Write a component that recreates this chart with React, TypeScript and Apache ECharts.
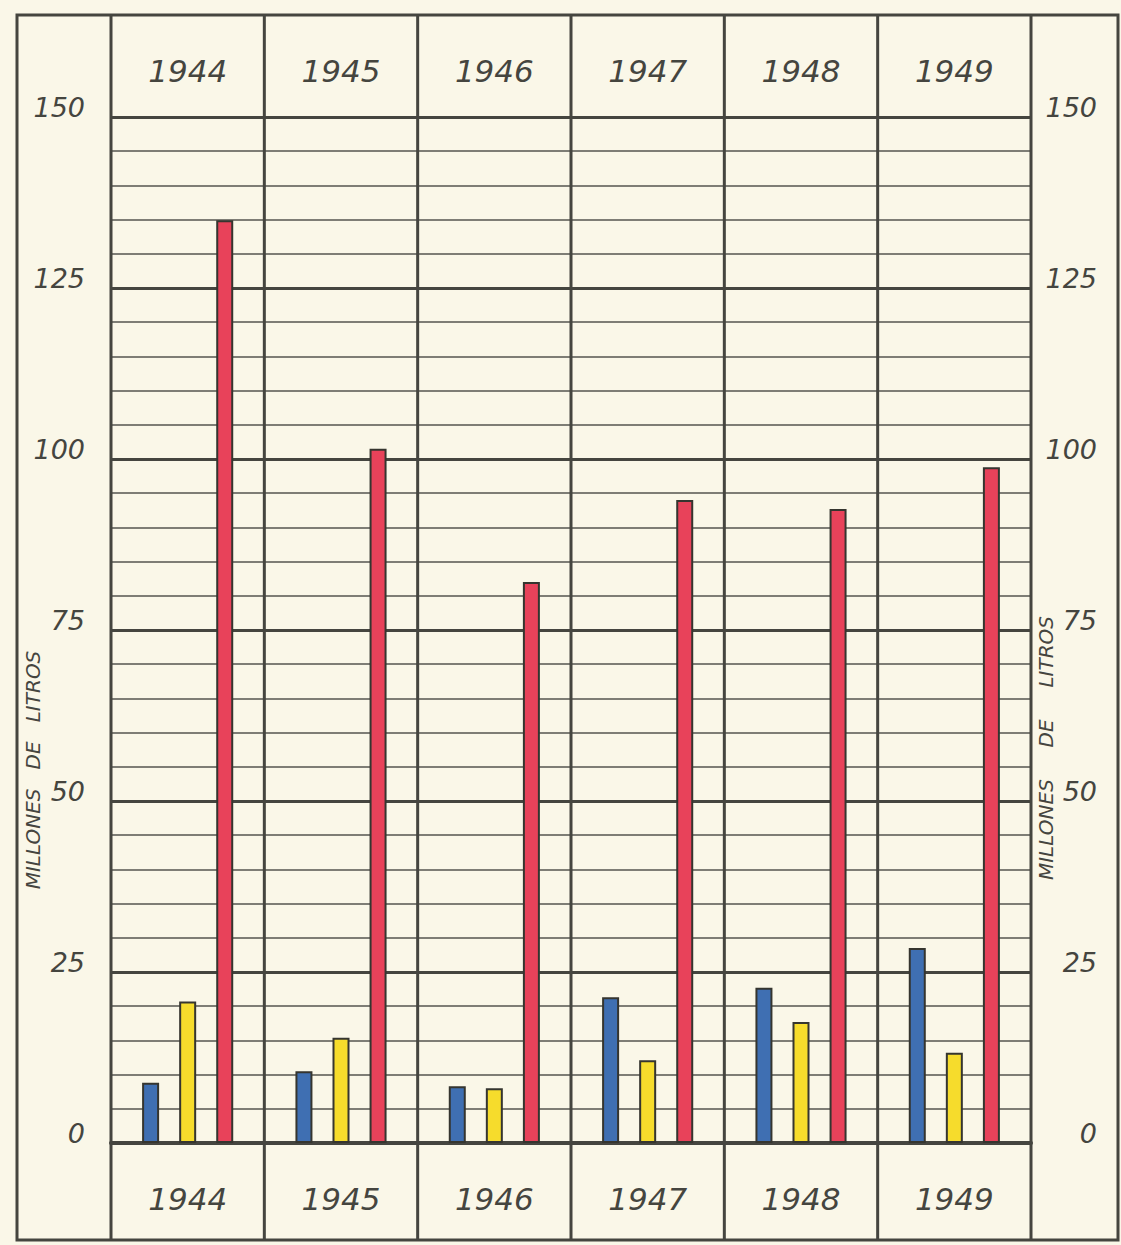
import React, { useEffect, useRef } from "react";
import * as echarts from "echarts";

const years = ["1944", "1945", "1946", "1947", "1948", "1949"];
const blueValues = [8.8, 10.5, 8.3, 21.3, 22.7, 28.5];
const yellowValues = [20.7, 15.4, 8.0, 12.1, 17.7, 13.2];
const redValues = [134.9, 101.5, 82.0, 94.0, 92.7, 98.8];
const yTicks = [0, 25, 50, 75, 100, 125, 150];
const axisTitleLeft = "MILLONES   DE   LITROS";
const axisTitleRight = "MILLONES     DE     LITROS";

const W = 1121;
const H = 1245;
const GRID_LEFT = 111;
const GRID_RIGHT = 90;
const GRID_TOP = 117;
const GRID_BOTTOM = 102;
const INK = "#45453f";
const BG = "#faf7e8";
const FONT = "DejaVu Sans";

export default function App() {
  const ref = useRef<HTMLDivElement>(null);

  useEffect(() => {
    if (!ref.current) return;
    const chart = echarts.init(ref.current, null, { renderer: "svg" });
    const gridW = W - GRID_LEFT - GRID_RIGHT;
    const colLines = years.map((_, i) => i).concat([years.length]).map((i) => {
      const x = GRID_LEFT + (i * gridW) / years.length;
      return {
        type: "line",
        z: 1,
        shape: { x1: x, y1: 15, x2: x, y2: 1240 },
        style: { stroke: INK, lineWidth: 3 },
      };
    });
    const tickLabel = {
      fontFamily: FONT,
      fontStyle: "italic",
      fontSize: 27,
      color: INK,
      verticalAlign: "bottom",
      lineHeight: 20,
    };
    const barStyle = (color: string) => ({
      color,
      borderColor: "#35352f",
      borderWidth: 2,
    });
    const option: any = {
      animation: false,
      backgroundColor: BG,
      grid: { left: GRID_LEFT, right: GRID_RIGHT, top: GRID_TOP, bottom: GRID_BOTTOM },
      xAxis: [
        {
          type: "category",
          data: years,
          position: "bottom",
          axisLine: { show: true, lineStyle: { color: INK, width: 4 } },
          axisTick: { show: false },
          splitLine: { show: false },
          axisLabel: {
            fontFamily: FONT,
            fontStyle: "italic",
            fontSize: 31,
            color: INK,
            margin: 56,
            verticalAlign: "middle",
          },
        },
        {
          type: "category",
          data: years,
          position: "top",
          axisLine: { show: false },
          axisTick: { show: false },
          splitLine: { show: false },
          axisLabel: {
            fontFamily: FONT,
            fontStyle: "italic",
            fontSize: 31,
            color: INK,
            margin: 46,
            verticalAlign: "middle",
          },
        },
      ],
      yAxis: [
        {
          type: "value",
          min: yTicks[0],
          max: yTicks[yTicks.length - 1],
          interval: 25,
          position: "left",
          axisLine: { show: false },
          axisTick: { show: false },
          splitLine: { show: true, lineStyle: { color: INK, width: 3 } },
          axisLabel: { ...tickLabel, margin: 26, align: "right" },
          z: 3,
        },
        {
          type: "value",
          min: yTicks[0],
          max: yTicks[yTicks.length - 1],
          interval: 25,
          position: "right",
          axisLine: { show: false },
          axisTick: { show: false },
          splitLine: { show: false },
          axisLabel: { ...tickLabel, margin: 66, align: "right" },
        },
        {
          type: "value",
          min: 0,
          max: 150,
          interval: 5,
          position: "left",
          axisLine: { show: false },
          axisTick: { show: false },
          axisLabel: { show: false },
          splitLine: { show: true, lineStyle: { color: "#55554f", width: 1.5 } },
        },
      ],
      series: [
        {
          name: "Azul",
          type: "bar",
          data: blueValues,
          barWidth: 17,
          barGap: "118%",
          itemStyle: barStyle("#3f6fb2"),
          z: 4,
        },
        {
          name: "Amarillo",
          type: "bar",
          data: yellowValues,
          barWidth: 17,
          barGap: "118%",
          itemStyle: barStyle("#f6dc2c"),
          z: 4,
        },
        {
          name: "Rojo",
          type: "bar",
          data: redValues,
          barWidth: 17,
          barGap: "118%",
          itemStyle: barStyle("#e8425a"),
          z: 4,
        },
      ],
      graphic: [
        {
          type: "rect",
          z: 1,
          shape: { x: 17, y: 15, width: 1101, height: 1225 },
          style: { fill: "none", stroke: INK, lineWidth: 3 },
        },
        ...colLines,
        {
          type: "text",
          x: 33,
          y: 770,
          rotation: Math.PI / 2,
          style: {
            text: axisTitleLeft,
            fontFamily: FONT,
            fontStyle: "italic",
            fontSize: 20,
            fill: INK,
            align: "center",
            verticalAlign: "middle",
          },
        },
        {
          type: "text",
          x: 1046,
          y: 748,
          rotation: Math.PI / 2,
          style: {
            text: axisTitleRight,
            fontFamily: FONT,
            fontStyle: "italic",
            fontSize: 20,
            fill: INK,
            align: "center",
            verticalAlign: "middle",
          },
        },
      ],
    };
    chart.setOption(option);
    return () => chart.dispose();
  }, []);

  return (
    <div
      ref={ref}
      style={{ position: "fixed", left: 0, top: 0, width: W, height: H, background: BG }}
    />
  );
}
